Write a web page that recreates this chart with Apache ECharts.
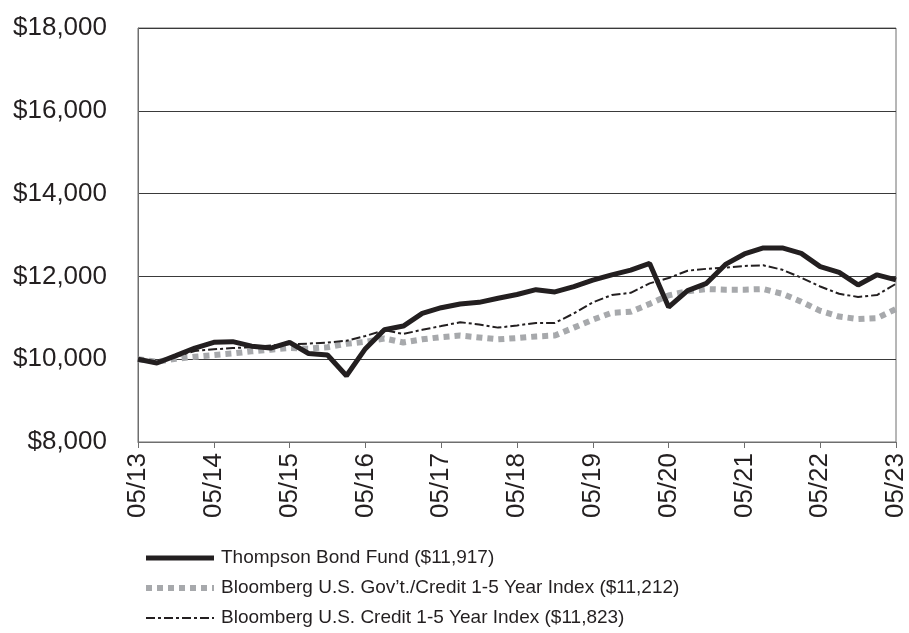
<!DOCTYPE html>
<html>
<head>
<meta charset="utf-8">
<script src="https://cdn.jsdelivr.net/npm/echarts@6/dist/echarts.min.js"></script>
<style>html,body{margin:0;padding:0;background:#fff;}#c{width:909px;height:633px;}</style>
</head>
<body>
<div id="c"></div>
<script>
// quarterly categories, 05/13 .. 05/23
const categories = [
  "05/13","08/13","11/13","02/14","05/14","08/14","11/14","02/15","05/15","08/15","11/15","02/16",
  "05/16","08/16","11/16","02/17","05/17","08/17","11/17","02/18","05/18","08/18","11/18","02/19",
  "05/19","08/19","11/19","02/20","05/20","08/20","11/20","02/21","05/21","08/21","11/21","02/22",
  "05/22","08/22","11/22","02/23","05/23"
];
const fundName = "Thompson Bond Fund ($11,917)";
const govName = "Bloomberg U.S. Gov\u2019t./Credit 1-5 Year Index ($11,212)";
const creditName = "Bloomberg U.S. Credit 1-5 Year Index ($11,823)";

const fundValues = [
  10000, 9908, 10085, 10270, 10408, 10423, 10315, 10270, 10408, 10138, 10100, 9600,
  10254, 10712, 10800, 11106, 11244, 11335, 11373, 11473, 11564, 11679, 11625, 11755,
  11908, 12037, 12152, 12313, 11260, 11657, 11832, 12290, 12542, 12687, 12687, 12557,
  12237, 12099, 11794, 12038, 11917
];
const govValues = [
  10000, 9940, 10008, 10060, 10100, 10138, 10190, 10230, 10270, 10255, 10290, 10370,
  10420, 10500, 10404, 10480, 10534, 10572, 10526, 10480, 10511, 10549, 10572, 10763,
  10954, 11121, 11145, 11336, 11542, 11641, 11695, 11680, 11680, 11695, 11580, 11390,
  11168, 11031, 10970, 10992, 11212
];
const creditValues = [
  10000, 9930, 10060, 10200, 10238, 10270, 10290, 10330, 10360, 10377, 10400, 10446,
  10561, 10700, 10610, 10710, 10800, 10893, 10840, 10763, 10816, 10877, 10877, 11106,
  11373, 11549, 11603, 11832, 11962, 12137, 12183, 12214, 12252, 12267, 12160, 11970,
  11756, 11580, 11504, 11550, 11823
];
const yMin = 8000, yMax = 18000, yStep = 2000;

const dark = '#231f20', gray = '#a7a9ac';
const fundLine = {color: dark, width: 5, type: 'solid', cap: 'butt'};
const govLine = {color: gray, width: 6, type: [6, 5]};
const creditLine = {color: dark, width: 2, type: [9, 3, 3, 3]};

const chart = echarts.init(document.getElementById('c'), null, {renderer: 'canvas'});
const font = "'Liberation Sans', Arial, sans-serif";
chart.setOption({
  animation: false,
  backgroundColor: '#ffffff',
  grid: {left: 138, right: 8, top: 28, bottom: 191, show: true, borderColor: '#6e6e6e', borderWidth: 1},
  legend: {
    orient: 'vertical', left: 138, top: 543,
    itemWidth: 68, itemHeight: 14, itemGap: 10,
    data: [
      {name: fundName, itemStyle: {opacity: 0}, lineStyle: {color: dark, width: 5, type: 'solid'}},
      {name: govName, itemStyle: {opacity: 0}, lineStyle: {color: gray, width: 6, type: [6, 5]}},
      {name: creditName, itemStyle: {opacity: 0}, lineStyle: {color: dark, width: 2, type: [9, 3, 3, 3]}}
    ],
    textStyle: {fontFamily: font, fontSize: 19, color: dark, lineHeight: 20, padding: [0,0,0,2]}
  },
  xAxis: {
    type: 'category', data: categories, boundaryGap: false,
    axisLine: {show: true, lineStyle: {color: '#6e6e6e', width: 1}},
    axisTick: {show: true, interval: 3, length: 6, lineStyle: {color: '#6e6e6e'}},
    axisLabel: {interval: 3, rotate: 90, margin: 11, fontFamily: font, fontSize: 26, color: dark},
    splitLine: {show: false}
  },
  yAxis: {
    type: 'value', min: yMin, max: yMax, interval: yStep,
    axisLine: {show: true, lineStyle: {color: '#6e6e6e', width: 1}},
    axisTick: {show: false},
    axisLabel: {margin: 31, fontFamily: font, fontSize: 26, color: dark,
      formatter: v => '$' + v.toLocaleString('en-US')},
    splitLine: {show: true, lineStyle: {color: '#3a3a3a', width: 1}}
  },
  series: [
    {name: govName, type: 'line', data: govValues, symbol: 'none', showSymbol: false, z: 2,
     lineStyle: govLine, itemStyle: {color: gray}},
    {name: creditName, type: 'line', data: creditValues, symbol: 'none', showSymbol: false, z: 3,
     lineStyle: creditLine, itemStyle: {color: dark}},
    {name: fundName, type: 'line', data: fundValues, symbol: 'none', showSymbol: false, z: 4,
     lineStyle: fundLine, itemStyle: {color: dark}}
  ]
});
</script>
</body>
</html>
